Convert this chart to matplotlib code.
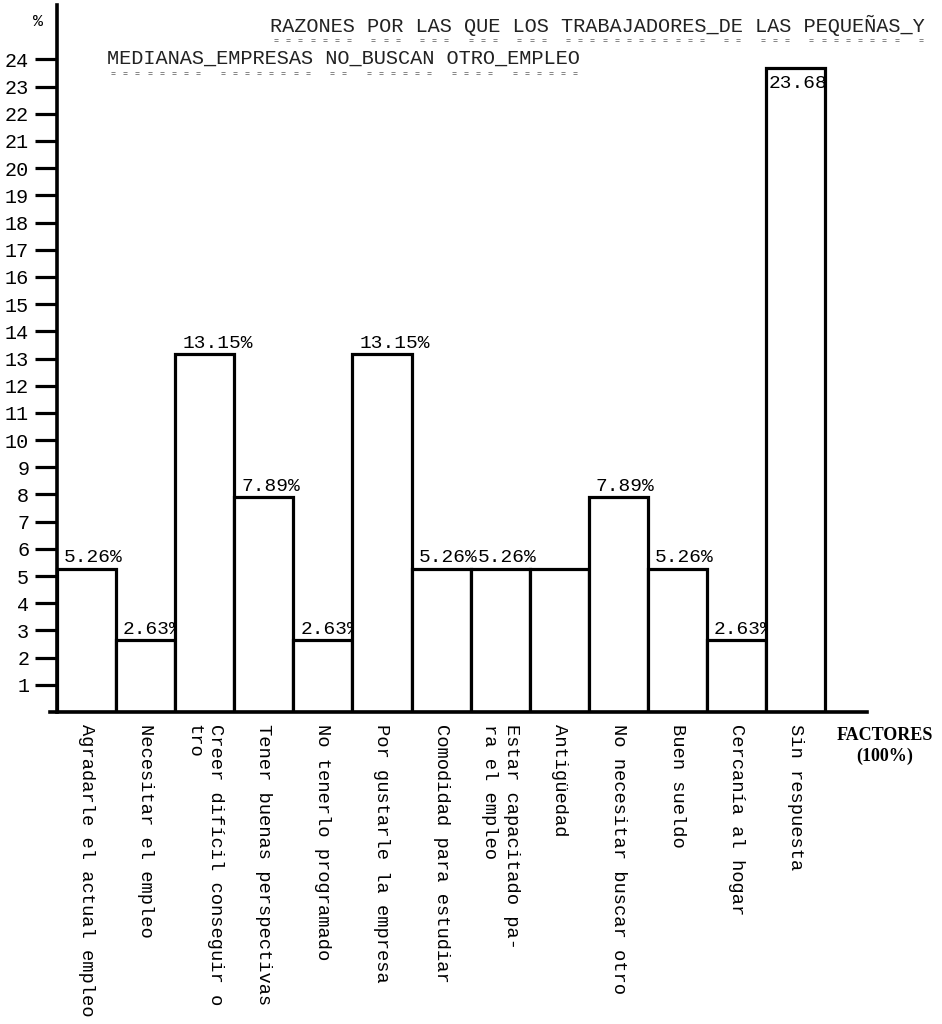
import matplotlib.pyplot as plt

# datos
factores = [
    'Agradarle el actual empleo',
    'Necesitar el empleo',
    'Creer difícil conseguir o\ntro',
    'Tener buenas perspectivas',
    'No tenerlo programado',
    'Por gustarle la empresa',
    'Comodidad para estudiar',
    'Estar capacitado pa-\nra el empleo',
    'Antigüedad',
    'No necesitar buscar otro',
    'Buen sueldo',
    'Cercanía al hogar',
    'Sin respuesta',
]
porcentajes = [5.26, 2.63, 13.15, 7.89, 2.63, 13.15, 5.26, 5.26, 5.26, 7.89, 5.26, 2.63, 23.68]
etiquetas = ['5.26%', '2.63%', '13.15%', '7.89%', '2.63%', '13.15%', '5.26%', '5.26%', '',
             '7.89%', '5.26%', '2.63%', '23.68']
y_ticks = list(range(1, 25))

titulo_1 = 'RAZONES POR LAS QUE LOS TRABAJADORES_DE LAS PEQUEÑAS_Y'
titulo_2 = 'MEDIANAS_EMPRESAS NO_BUSCAN OTRO_EMPLEO'

MONO = 'Liberation Mono'
W, H = 942, 1024

fig = plt.figure(figsize=(W / 100, H / 100), dpi=100)
fig.patch.set_facecolor('white')
ax = fig.add_axes([50 / W, 1 - 712 / H, (867 - 50) / W, (712 - 5) / H])

x = list(range(len(porcentajes)))
ax.bar(x, porcentajes, width=1.0, align='edge', color='white',
       edgecolor='black', linewidth=2.3, zorder=2)

# etiquetas de valor (debajo de las barras para que la barra vecina las tape)
for i, (v, lab) in enumerate(zip(porcentajes, etiquetas)):
    if not lab:
        continue
    if v == max(porcentajes):
        ax.annotate(lab, (i, v), xytext=(2, -5), textcoords='offset points',
                    ha='left', va='top', fontfamily=MONO, fontsize=14, zorder=3)
    else:
        ax.annotate(lab, (i, v), xytext=(5, 2), textcoords='offset points',
                    ha='left', va='bottom', fontfamily=MONO, fontsize=14, zorder=1)

ax.set_xlim(-0.12, 13.71)
ax.set_ylim(0, 26.0)

for s in ['top', 'right']:
    ax.spines[s].set_visible(False)
ax.spines['left'].set_position(('data', 0))
ax.spines['left'].set_linewidth(2.6)
ax.spines['bottom'].set_linewidth(2.6)

ax.set_yticks(y_ticks)
ax.set_yticklabels([str(t) for t in y_ticks], fontfamily=MONO, fontsize=14.5)
ax.tick_params(axis='y', direction='out', length=16, width=2.3, pad=4)

ax.set_xticks([i + 0.5 for i in x])
ax.set_xticklabels(factores, rotation=270, fontfamily=MONO, fontsize=13.5,
                   linespacing=1.4)
for lbl in ax.get_xticklabels():
    lbl.set_multialignment('left')
ax.tick_params(axis='x', length=0, pad=9)

# "%" sobre el eje
fig.text(38 / W, 1 - 22 / H, '%', ha='center', va='center', fontfamily=MONO, fontsize=12)

# titulo a maquina con subrayado
fs_t = 14.6
adv = 0.6 * fs_t * 100 / 72
for txt, x0, y0 in [(titulo_1, 270, 25), (titulo_2, 107, 58)]:
    fig.text(x0 / W, 1 - y0 / H, txt, ha='left', va='center', fontfamily=MONO,
             fontsize=fs_t, color='#222222')
    for k, ch in enumerate(txt):
        if ch in ' _':
            continue
        fig.text((x0 + (k + 0.5) * adv) / W, 1 - (y0 + 13) / H, '=', ha='center',
                 va='top', fontfamily=MONO, fontsize=6, color='#222222')

fig.text(885 / W, 1 - 727 / H, 'FACTORES\n(100%)', ha='center', va='top',
         fontfamily='Liberation Serif', fontweight='bold', fontsize=13, linespacing=1.3)

fig.savefig('out.png', dpi=100)
